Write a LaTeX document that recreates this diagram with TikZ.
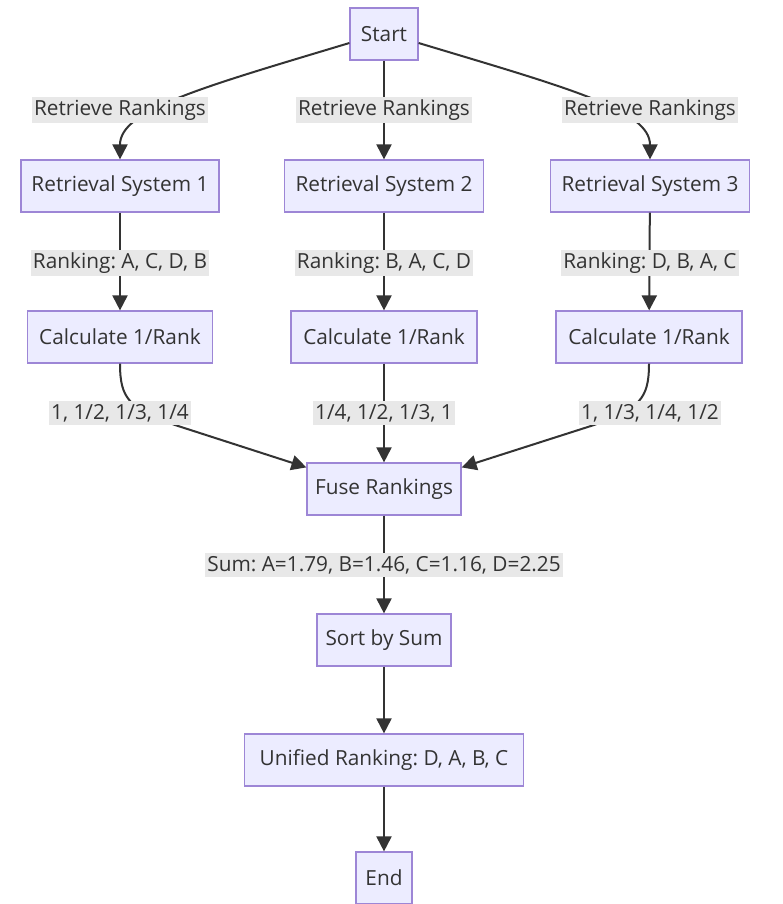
\documentclass[tikz,border=0pt]{standalone}
\usepackage{fontspec}
\setmainfont{Open Sans}
\usetikzlibrary{arrows.meta}
\definecolor{nodefill}{HTML}{ECECFF}
\definecolor{nodeborder}{HTML}{9D86D6}
\definecolor{ink}{HTML}{333333}
\definecolor{lblbg}{HTML}{E8E8E8}
\frenchspacing
\begin{document}
\begin{tikzpicture}[x=1pt,y=-1pt,
 box/.style={draw=nodeborder, fill=nodefill, line width=1.2pt, minimum height=52pt, inner sep=0pt, text=ink, font=\fontsize{20.8}{22}\selectfont},
 lbl/.style={fill=lblbg, text=ink, inner xsep=2pt, inner ysep=2.8pt, font=\fontsize{20.8}{22}\selectfont},
 edge/.style={draw=ink, line width=2pt, -{Triangle[length=15pt,width=15pt]}}]
\useasboundingbox[fill=white] (0,0) rectangle (782,904);
% nodes
\node[box, minimum width=68pt] (start) at (384,34) {Start};
\node[box, minimum width=198pt] (rs1) at (120,186) {Retrieval System 1};
\node[box, minimum width=199pt] (rs2) at (384,186) {Retrieval System 2};
\node[box, minimum width=199pt] (rs3) at (650,186) {Retrieval System 3};
\node[box, minimum width=185pt] (c1) at (120,337) {Calculate 1/Rank};
\node[box, minimum width=186pt] (c2) at (384,337) {Calculate 1/Rank};
\node[box, minimum width=186pt] (c3) at (649,337) {Calculate 1/Rank};
\node[box, minimum width=154pt] (fuse) at (384,489) {Fuse Rankings};
\node[box, minimum width=134pt] (sort) at (384,640) {Sort by Sum};
\node[box, minimum width=279pt] (uni) at (384,760) {Unified Ranking: D, A, B, C};
\node[box, minimum width=56pt] (end) at (384,878) {End};
% edges
\draw[edge] ([yshift=-9pt]start.west) .. controls (200,88) and (120,110) .. (rs1.north);
\draw[edge] (start) -- (rs2);
\draw[edge] ([yshift=-9pt]start.east) .. controls (568,88) and (650,110) .. (rs3.north);
\draw[edge] (rs1) -- (c1);
\draw[edge] (rs2) -- (c2);
\draw[edge] (rs3) -- (c3);
\draw[edge] (c1.south) .. controls (120,400) and (130,408) .. (175,425) -- ([yshift=-5pt]fuse.north west);
\draw[edge] (c2) -- (fuse);
\draw[edge] (c3.south) .. controls (649,400) and (639,408) .. (594,425) -- ([yshift=-5pt]fuse.north east);
\draw[edge] (fuse) -- (sort);
\draw[edge] (sort) -- (uni);
\draw[edge] (uni) -- (end);
% edge labels
\node[lbl] (l1) at (120,110) {Retrieve Rankings};
\node[lbl] (l2) at (384,110) {Retrieve Rankings};
\node[lbl] (l3) at (650,110) {Retrieve Rankings};
\node[lbl] (r1) at (120,263) {Ranking: A, C, D, B};
\node[lbl] (r2) at (384,263) {Ranking: B, A, C, D};
\node[lbl] (r3) at (650,263) {Ranking: D, B, A, C};
\node[lbl] (s1) at (120,413) {1, 1/2, 1/3, 1/4};
\node[lbl] (s2) at (384,413) {1/4, 1/2, 1/3, 1};
\node[lbl] (s3) at (650,413) {1, 1/3, 1/4, 1/2};
\node[lbl] (sum) at (384,565) {Sum: A=1.79, B=1.46, C=1.16, D=2.25};
\end{tikzpicture}
\end{document}
